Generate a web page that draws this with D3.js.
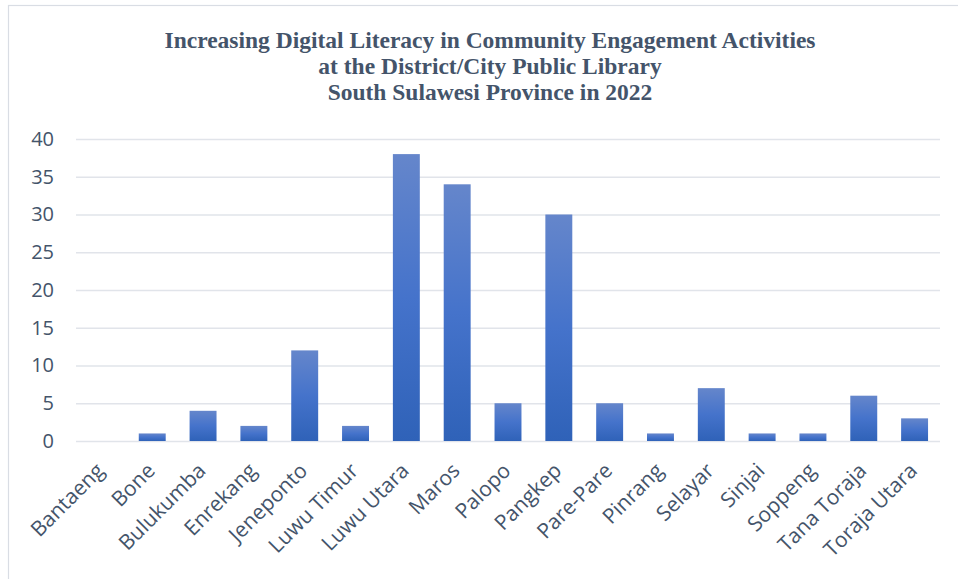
<!DOCTYPE html>
<html>
<head>
<meta charset="utf-8">
<script src="https://cdn.jsdelivr.net/npm/d3@7"></script>
<style>
  html, body { margin: 0; padding: 0; background: #fff; }
  svg { display: block; }
</style>
</head>
<body>
<svg id="chart" width="958" height="579"></svg>
<script>
// Library activity counts per district / city
const districts = ["Bantaeng", "Bone", "Bulukumba", "Enrekang", "Jeneponto", "Luwu Timur",
  "Luwu Utara", "Maros", "Palopo", "Pangkep", "Pare-Pare", "Pinrang", "Selayar",
  "Sinjai", "Soppeng", "Tana Toraja", "Toraja Utara"];
const activities = [0, 1, 4, 2, 12, 2, 38, 34, 5, 30, 5, 1, 7, 1, 1, 6, 3];
const yTicks = [0, 5, 10, 15, 20, 25, 30, 35, 40];
const titleLines = [
  "Increasing Digital Literacy in Community Engagement Activities",
  "at the District/City Public Library",
  "South Sulawesi Province in 2022"
];

const W = 958, H = 579;
const margin = { left: 76, right: 18, top: 139, bottom: 138 };
const textColor = "#44546a";
const sansFont = "'Open Sans', 'Noto Sans', sans-serif";

const svg = d3.select("#chart");

// chart frame
svg.append("rect")
  .attr("x", 8.5).attr("y", 5.5)
  .attr("width", W + 10).attr("height", H)
  .attr("fill", "#fff")
  .attr("stroke", "#d9dde4").attr("stroke-width", 1.2);

// bar fill: lighter at the top, deeper blue at the base
const defs = svg.append("defs");
const grad = defs.append("linearGradient")
  .attr("id", "barFill").attr("x1", 0).attr("y1", 0).attr("x2", 0).attr("y2", 1);
grad.append("stop").attr("offset", "0%").attr("stop-color", "#6586cb");
grad.append("stop").attr("offset", "50%").attr("stop-color", "#4573cb");
grad.append("stop").attr("offset", "100%").attr("stop-color", "#2f62b8");

const x = d3.scaleBand()
  .domain(districts)
  .range([margin.left, W - margin.right])
  .paddingInner(0.47)
  .paddingOuter(0.235);

const y = d3.scaleLinear()
  .domain([0, 40])
  .range([H - margin.bottom, margin.top]);

// title
const title = svg.append("text")
  .attr("text-anchor", "middle")
  .attr("font-family", "'Liberation Serif', 'DejaVu Serif', serif")
  .attr("font-weight", "bold")
  .attr("font-size", 23.5)
  .attr("fill", textColor);
titleLines.forEach((line, i) => {
  title.append("tspan")
    .attr("x", 490)
    .attr("y", 48 + i * 26)
    .text(line);
});

// gridlines and y tick labels
const yAxis = d3.axisLeft(y)
  .tickValues(yTicks)
  .tickSize(-(W - margin.right - margin.left))
  .tickPadding(22)
  .tickFormat(d3.format("d"));

const gy = svg.append("g")
  .attr("transform", `translate(${margin.left},0)`)
  .call(yAxis);
gy.select(".domain").remove();
gy.selectAll(".tick line")
  .attr("stroke", "#e1e4ea")
  .attr("stroke-width", 1.6);
gy.selectAll(".tick text")
  .attr("fill", textColor)
  .attr("font-family", sansFont)
  .attr("font-size", 20);

// bars
svg.append("g")
  .selectAll("rect")
  .data(districts.map((d, i) => ({ name: d, value: activities[i] })))
  .join("rect")
  .attr("x", d => x(d.name))
  .attr("width", x.bandwidth())
  .attr("y", d => y(d.value))
  .attr("height", d => y(0) - y(d.value))
  .attr("fill", "url(#barFill)");

// category labels, rotated
const xAxis = d3.axisBottom(x).tickSize(0).tickPadding(0);
const gx = svg.append("g")
  .attr("transform", `translate(0,${y(0)})`)
  .call(xAxis);
gx.select(".domain").remove();
gx.selectAll(".tick text")
  .attr("fill", textColor)
  .attr("font-family", sansFont)
  .attr("font-size", 21)
  .attr("text-anchor", "end")
  .attr("dy", null)
  .attr("transform", "translate(4,31) rotate(-45)");
</script>
</body>
</html>
